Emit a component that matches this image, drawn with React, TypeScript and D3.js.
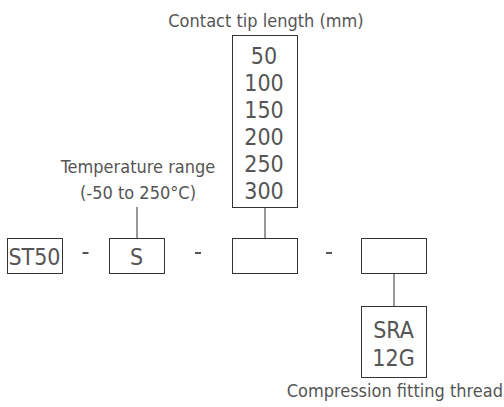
import { scaleLinear, scalePoint, scaleOrdinal } from "d3";

// code segments of the order number
const segments = ["prefix", "temp", "tip", "thread"];
const segmentCodes = ["ST50", "S", "", ""];
const segmentX = [7, 109, 232, 361];
const segmentW = [55, 55, 65, 65];

const tipLengths = ["50", "100", "150", "200", "250", "300"];
const threadCodes = ["SRA", "12G"];

const tempLabel = ["Temperature range", "(-50 to 250°C)"];
const tipLabel = "Contact tip length (mm)";
const threadLabel = "Compression fitting thread";

const W = 504;
const H = 407;
const FONT = "'Liberation Sans Narrow', 'DejaVu Sans Condensed', 'Open Sans', sans-serif";
const TEXT = "#555";
const LINE = "#333";

const App = () => {
  const xPos = scaleOrdinal<string, number>().domain(segments).range(segmentX);
  const wPos = scaleOrdinal<string, number>().domain(segments).range(segmentW);
  const cx = (s: string) => xPos(s) + wPos(s) / 2;

  const rowY = 238;
  const rowH = 35;

  // tip length list, stacked inside the tall box
  const tipY = scalePoint<string>().domain(tipLengths).range([64, 199]);
  const threadY = scalePoint<string>().domain(threadCodes).range([338, 366]);
  const tempY = scaleLinear().domain([0, 1]).range([173, 199]);

  return (
    <svg width={W} height={H} style={{ position: "absolute", left: 0, top: 0 }}>
      <rect width={W} height={H} fill="white" />
      {/* main row of boxes */}
      {segments.map((s, i) => (
        <g key={s}>
          <rect
            x={xPos(s) + 0.5}
            y={rowY + 0.5}
            width={wPos(s)}
            height={rowH}
            fill="none"
            stroke={LINE}
            strokeWidth={1}
          />
          {segmentCodes[i] && (
            <text
              x={cx(s)}
              y={rowY + 27}
              textAnchor="middle"
              fontFamily={FONT}
              fontSize={23}
              fill={TEXT}
            >
              {segmentCodes[i]}
            </text>
          )}
          {i > 0 && (
            <line
              x1={(xPos(segments[i - 1]) + wPos(segments[i - 1]) + xPos(s)) / 2 - 3}
              x2={(xPos(segments[i - 1]) + wPos(segments[i - 1]) + xPos(s)) / 2 + 3}
              y1={253}
              y2={253}
              stroke={TEXT}
              strokeWidth={2}
            />
          )}
        </g>
      ))}

      {/* temperature label */}
      {tempLabel.map((t, i) => (
        <text
          key={t}
          x={138}
          y={tempY(i)}
          textAnchor="middle"
          fontFamily={FONT}
          fontSize={18}
          fill={TEXT}
        >
          {t}
        </text>
      ))}
      <line x1={cx("temp") + 0.5} x2={cx("temp") + 0.5} y1={207} y2={rowY} stroke={LINE} />

      {/* tip length box */}
      <text x={266} y={27} textAnchor="middle" fontFamily={FONT} fontSize={18} fill={TEXT}>
        {tipLabel}
      </text>
      <rect x={232.5} y={35.5} width={65} height={172} fill="none" stroke={LINE} />
      {tipLengths.map((t) => (
        <text
          key={t}
          x={264}
          y={tipY(t)}
          textAnchor="middle"
          fontFamily={FONT}
          fontSize={23}
          fill={TEXT}
        >
          {t}
        </text>
      ))}
      <line x1={cx("tip") + 0.5} x2={cx("tip") + 0.5} y1={207} y2={rowY} stroke={LINE} />

      {/* thread box */}
      <line x1={cx("thread") + 0.5} x2={cx("thread") + 0.5} y1={rowY + rowH} y2={306} stroke={LINE} />
      <rect x={361.5} y={306.5} width={65} height={71} fill="none" stroke={LINE} />
      {threadCodes.map((t) => (
        <text
          key={t}
          x={cx("thread")}
          y={threadY(t)}
          textAnchor="middle"
          fontFamily={FONT}
          fontSize={23}
          fill={TEXT}
        >
          {t}
        </text>
      ))}
      <text x={503} y={397} textAnchor="end" fontFamily={FONT} fontSize={18} fill={TEXT}>
        {threadLabel}
      </text>
    </svg>
  );
};

export default App;
